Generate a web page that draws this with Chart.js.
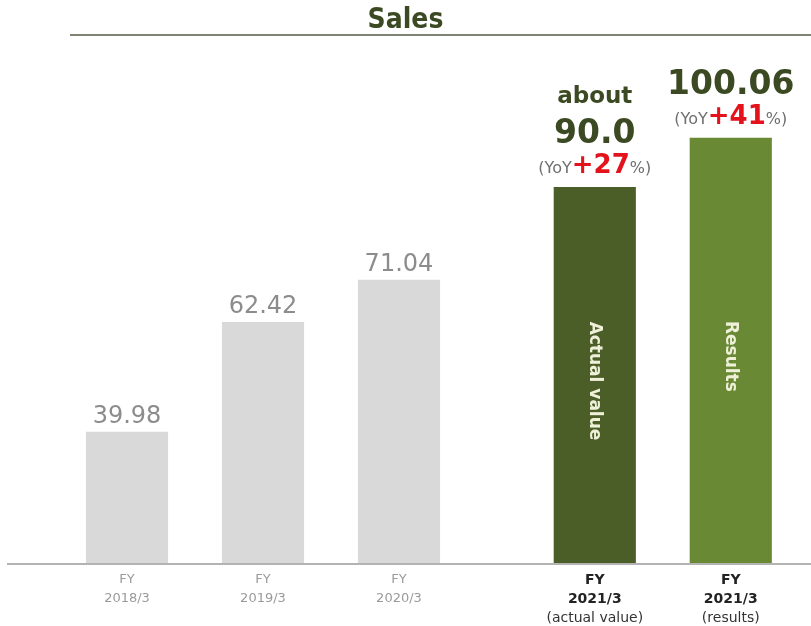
<!DOCTYPE html>
<html>
<head>
<meta charset="utf-8">
<script src="https://cdn.jsdelivr.net/npm/chart.js@4"></script>
<style>
  html, body { margin: 0; padding: 0; background: #fff; }
  #wrap { width: 811px; height: 626px; }
</style>
</head>
<body>
<div id="wrap"><canvas id="salesChart" width="811" height="626"></canvas></div>
<script>
// --- data ---
const categories = [
    ['FY', '2018/3'],
    ['FY', '2019/3'],
    ['FY', '2020/3'],
    ['FY', '2021/3', '(actual value)'],
    ['FY', '2021/3', '(results)'],
];
const sales = [39.98, 62.42, 71.04, 90.0, 100.06];
const valueLabels = ['39.98', '62.42', '71.04', '90.0', '100.06'];
const prefixLabels = ['', '', '', 'about', ''];
const yoyPercent = [null, null, null, 27, 41];
const barNotes = ['', '', '', 'Actual value', 'Results'];
const highlighted = [false, false, false, true, true];

// --- look ---
const COLORS = {
    past: '#d9d9d9',
    actual: '#4b5e28',
    results: '#6a8935',
    pastText: '#8c8c8c',
    pastTick: '#9a9a9a',
    dark: '#3b4a22',
    red: '#e3121b',
    note: '#eef0d8',
    baseline: '#b3b3b3',
    rule: '#7e8474',
};
const FONT = '"DejaVu Sans", Verdana, sans-serif';
const GAP_AFTER = 2;      // extra space before the FY2021 forecasts
const GAP = 0.44;
const slotOf = (i) => i + (i > GAP_AFTER ? GAP : 0);

const barColors = sales.map((v, i) => !highlighted[i] ? COLORS.past : (i === 3 ? COLORS.actual : COLORS.results));

const labelPlugin = {
    id: 'slideLabels',
    afterDraw: (chart) => {
        const ctx = chart.ctx;
        const meta = chart.getDatasetMeta(0);
        const { left, right, bottom } = chart.chartArea;
        ctx.save();

        // underline of the title
        ctx.beginPath();
        ctx.moveTo(70, 35); ctx.lineTo(right, 35);
        ctx.lineWidth = 2; ctx.strokeStyle = COLORS.rule; ctx.stroke();

        // baseline
        ctx.beginPath();
        ctx.moveTo(left + 7, bottom + 1); ctx.lineTo(right, bottom + 1);
        ctx.lineWidth = 2; ctx.strokeStyle = COLORS.baseline; ctx.stroke();

        ctx.textAlign = 'center';
        meta.data.forEach((bar, i) => {
            const x = bar.x, top = bar.y;

            if (!highlighted[i]) {
                ctx.font = '24px ' + FONT;
                ctx.fillStyle = COLORS.pastText;
                ctx.textBaseline = 'alphabetic';
                ctx.fillText(valueLabels[i], x, top - 9);
            } else {
                // YoY line: "(YoY" + red "+27" + "%)"
                const a = '(YoY', b = '+' + yoyPercent[i], c = '%)';
                const fa = '16px ' + FONT, fb = 'bold 26px ' + FONT;
                ctx.font = fa; const wa = ctx.measureText(a).width, wc = ctx.measureText(c).width;
                ctx.font = fb; const wb = ctx.measureText(b).width;
                let sx = x - (wa + wb + wc) / 2;
                const yb = top - 14;
                ctx.textAlign = 'left'; ctx.textBaseline = 'alphabetic';
                ctx.font = fa; ctx.fillStyle = '#6f6f6f'; ctx.fillText(a, sx, yb); sx += wa;
                ctx.font = fb; ctx.fillStyle = COLORS.red; ctx.fillText(b, sx, yb); sx += wb;
                ctx.font = fa; ctx.fillStyle = '#6f6f6f'; ctx.fillText(c, sx, yb);
                ctx.textAlign = 'center';

                ctx.fillStyle = COLORS.dark;
                ctx.font = 'bold 33px ' + FONT;
                ctx.fillText(valueLabels[i], x, top - 44);
                if (prefixLabels[i]) {
                    ctx.font = 'bold 23px ' + FONT;
                    ctx.fillText(prefixLabels[i], x, top - 84);
                }

                // rotated note inside the bar
                ctx.save();
                ctx.translate(x, (top + bottom) / 2 + 6);
                ctx.rotate(Math.PI / 2);
                ctx.font = 'bold 17px ' + FONT;
                ctx.fillStyle = COLORS.note;
                ctx.textBaseline = 'middle';
                ctx.fillText(barNotes[i], 0, 0);
                ctx.restore();
            }

            // category labels under the axis
            ctx.textBaseline = 'middle';
            categories[i].forEach((line, j) => {
                const y = bottom + 17 + j * 19;
                if (highlighted[i]) {
                    ctx.font = (j < 2 ? 'bold ' : '') + '14px ' + FONT;
                    ctx.fillStyle = j < 2 ? '#222' : '#333';
                } else {
                    ctx.font = '13px ' + FONT;
                    ctx.fillStyle = COLORS.pastTick;
                }
                ctx.fillText(line, x, y);
            });
        });
        ctx.restore();
    }
};

new Chart(document.getElementById('salesChart'), {
    type: 'bar',
    data: {
        datasets: [{
            label: 'Sales',
            data: sales.map((v, i) => ({ x: slotOf(i), y: v })),
            backgroundColor: barColors,
            borderWidth: 0,
            categoryPercentage: 1,
            barPercentage: 0.647,
        }]
    },
    options: {
        responsive: false,
        animation: false,
        layout: { padding: { left: 0, right: 0, top: 0, bottom: 63 } },
        plugins: {
            legend: { display: false },
            tooltip: { enabled: false },
            title: {
                display: true,
                text: 'Sales',
                color: COLORS.dark,
                font: { family: '"DejaVu Sans Condensed", "DejaVu Sans", sans-serif', size: 28, weight: 'bold' },
                padding: { top: 4, bottom: 12 },
            }
        },
        scales: {
            x: {
                type: 'linear',
                min: -0.934, max: 5.03,
                offset: false,
                display: false,
            },
            y: {
                min: 13.2, max: 118.05,
                display: false,
            }
        }
    },
    plugins: [labelPlugin]
});
</script>
</body>
</html>
